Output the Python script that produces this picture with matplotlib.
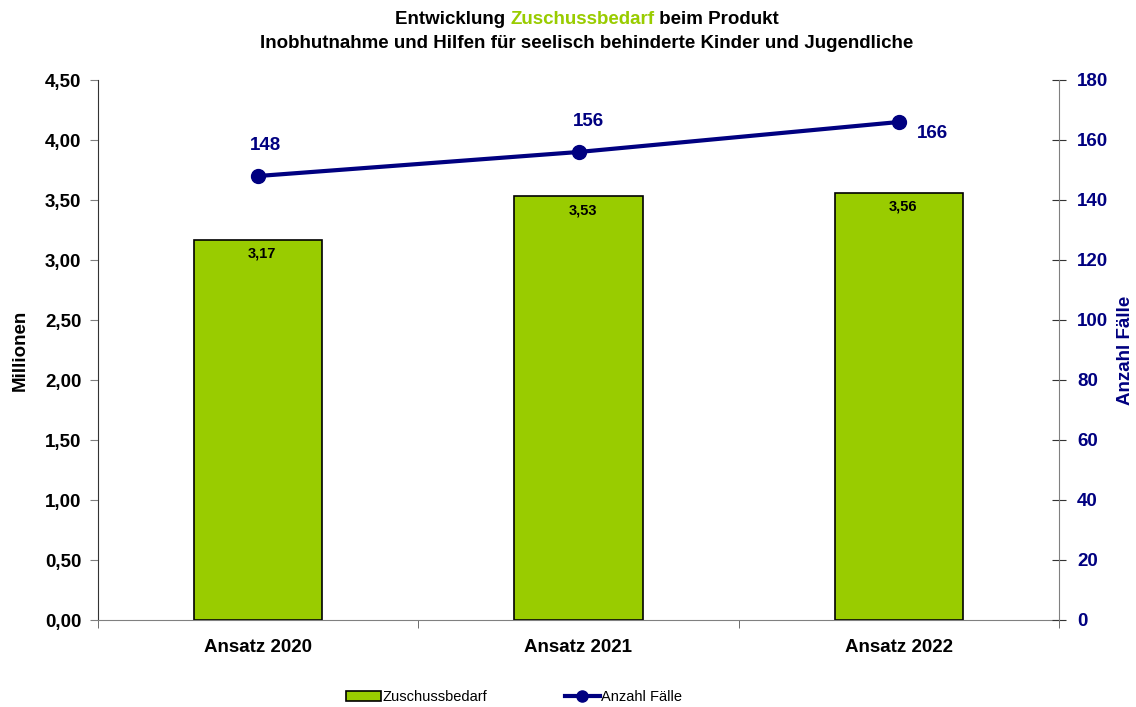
import numpy as np
from matplotlib import pyplot as plt
from matplotlib.lines import Line2D
from matplotlib.patches import Patch

plt.rcParams['font.family'] = ['Liberation Sans', 'DejaVu Sans']

# data
kategorien = ["Ansatz 2020", "Ansatz 2021", "Ansatz 2022"]
zuschuss = [3.17, 3.53, 3.56]          # Millionen
faelle = [148, 156, 166]               # Anzahl Faelle
y_links = [0.0, 0.5, 1.0, 1.5, 2.0, 2.5, 3.0, 3.5, 4.0, 4.5]
y_rechts = [0, 20, 40, 60, 80, 100, 120, 140, 160, 180]

gruen = "#99CC00"
navy = "#000080"

fig = plt.figure(figsize=(11.36, 7.07), dpi=100)
ax = fig.add_axes([98/1136, 87/707, (1059-98)/1136, 540/707])

x = np.arange(len(kategorien))
ax.bar(x, zuschuss, width=0.40, color=gruen, edgecolor="black", linewidth=1.2, zorder=2)
for xi, v in zip(x, zuschuss):
    ax.annotate(("%.2f" % v).replace(".", ","), (xi, v), xytext=(4, -14),
                textcoords="offset pixels", ha="center", va="center",
                fontsize=10.5, fontweight="bold")

ax.set_xlim(-0.5, 2.5)
ax.set_ylim(0, 4.5)
ax.set_yticks(y_links)
ax.set_yticklabels([("%.2f" % v).replace(".", ",") for v in y_links],
                   fontsize=13.5, fontweight="bold")
ax.set_xticks(x)
ax.set_xticklabels(kategorien, fontsize=13.5, fontweight="bold")
ax.set_xticks([-0.5, 0.5, 1.5, 2.5], minor=True)
ax.tick_params(axis="x", which="major", length=0, pad=14)
ax.tick_params(axis="x", which="minor", length=6, color="#555555")
ax.tick_params(axis="y", length=6, color="#808080", pad=6)
ax.set_ylabel("Millionen", fontsize=13.5, fontweight="bold", labelpad=12)
ax.spines["top"].set_visible(False)
ax.spines["right"].set_visible(False)
ax.spines["left"].set_color("#333333")
ax.spines["bottom"].set_color("#808080")

ax2 = ax.twinx()
ax2.plot(x, faelle, color=navy, linewidth=3, marker="o", markersize=10, zorder=3)
ax2.set_ylim(0, 180)
ax2.set_yticks(y_rechts)
ax2.set_yticklabels([str(v) for v in y_rechts], fontsize=13.5, fontweight="bold", color=navy)
ax2.tick_params(axis="y", direction="inout", length=10, color="#333333", pad=8)
ax2.set_ylabel("Anzahl Fälle", fontsize=13.5, fontweight="bold", color=navy, labelpad=6)
for s in ["top", "left", "bottom"]:
    ax2.spines[s].set_visible(False)
ax2.spines["right"].set_color("#808080")

offsets = [(7, 30), (10, 30), (34, -12)]
for xi, v, off in zip(x, faelle, offsets):
    ax2.annotate(str(v), (xi, v), xytext=off, textcoords="offset pixels",
                 ha="center", va="center", fontsize=13.5, fontweight="bold", color=navy)

# title, first line with green word
fig.canvas.draw()
r = fig.canvas.get_renderer()
teile = [("Entwicklung ", "black"), ("Zuschussbedarf", gruen), (" beim Produkt", "black")]
txts = [fig.text(0, 1 - 19/707, t, color=c, fontsize=13.5, fontweight="bold", va="center")
        for t, c in teile]
breiten = [t.get_window_extent(r).width for t in txts]
start = 587 - sum(breiten) / 2
for t, b in zip(txts, breiten):
    t.set_x(start / 1136)
    start += b
fig.text(587/1136, 1 - 43/707, "Inobhutnahme und Hilfen für seelisch behinderte Kinder und Jugendliche",
         ha="center", va="center", fontsize=13.5, fontweight="bold")

handles = [Patch(facecolor=gruen, edgecolor="black", linewidth=1.2),
           Line2D([], [], color=navy, linewidth=3, marker="o", markersize=8)]
fig.legend(handles, ["Zuschussbedarf", "Anzahl Fälle"], loc="center",
           bbox_to_anchor=(514/1136, 1 - 697/707), ncol=2, frameon=False,
           fontsize=10.5, handlelength=2.4, handletextpad=0.1, columnspacing=5.3)

fig.savefig("out.png", dpi=100)
